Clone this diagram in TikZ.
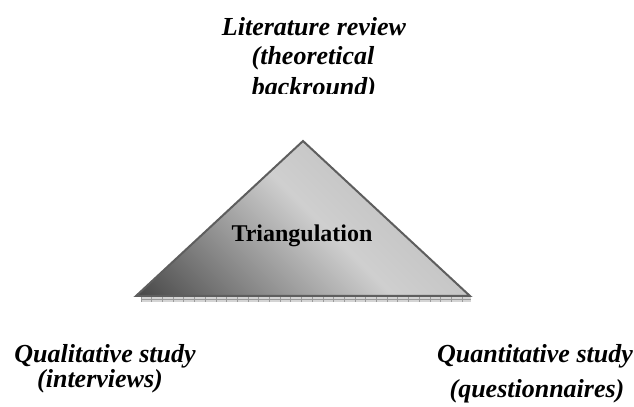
\documentclass[tikz,border=0pt]{standalone}
\usepackage{fontspec}
\setmainfont{Liberation Serif}
\definecolor{triDark}{HTML}{404040}
\definecolor{triLight}{HTML}{CFCFCF}
\definecolor{triTop}{HTML}{B0B0B0}
\definecolor{triEdge}{HTML}{5E5E5E}
\definecolor{stripFill}{HTML}{D4D4D4}
\definecolor{stripTick}{HTML}{9A9A9A}
\begin{document}
\begin{tikzpicture}[x=0.5pt,y=-0.5pt,
  corner text/.style={font=\fontsize{13}{15}\selectfont\bfseries\itshape,
    inner sep=0pt, anchor=base},
  centre text/.style={font=\fontsize{12}{14}\selectfont\bfseries,
    inner sep=0pt, anchor=base},
  tri edge/.style={draw=triEdge, line width=1pt, line join=miter},
]
\useasboundingbox (0,0) rectangle (634,407);
% strip under the base
\fill[stripFill] (141,297) rectangle (471,302);
\draw[stripTick, line width=0.3pt] (141,299.5) -- (471,299.5);
\foreach \i in {0,...,30}
  \draw[stripTick, line width=0.3pt] ({141+10.7*\i},297) -- ({141+10.7*\i},302);
% the triangle
\coordinate (apex) at (303,141);
\coordinate (left) at (136,296);
\coordinate (right) at (470,296);
\begin{scope}
  \clip (apex) -- (right) -- (left) -- cycle;
  % gradient runs from the lower left corner to the upper right
  \shade[transform canvas={rotate around={45:(303,218)}},
    left color=triDark, right color=triTop, middle color=triLight]
    (121,18) rectangle (503,418);
\end{scope}
\draw[tri edge] (apex) -- (right) -- (left) -- cycle;
\node[centre text] (tri) at (302,242) {Triangulation};
% top corner, cut off by its box
\begin{scope}
  \clip (150,0) rectangle (480,94);
  \node[corner text] (lit) at (314,35) {Literature review};
  \node[corner text] (lit2) at (313,65) {(theoretical};
  \node[corner text] (lit3) at (314,96) {backround)};
\end{scope}
% bottom corners
\node[corner text] (qual) at (105,363) {Qualitative study};
\node[corner text] (qual2) at (100,387) {(interviews)};
\node[corner text] (quan) at (535,363) {Quantitative study};
\node[corner text] (quan2) at (537,398) {(questionnaires)};
\end{tikzpicture}
\end{document}
